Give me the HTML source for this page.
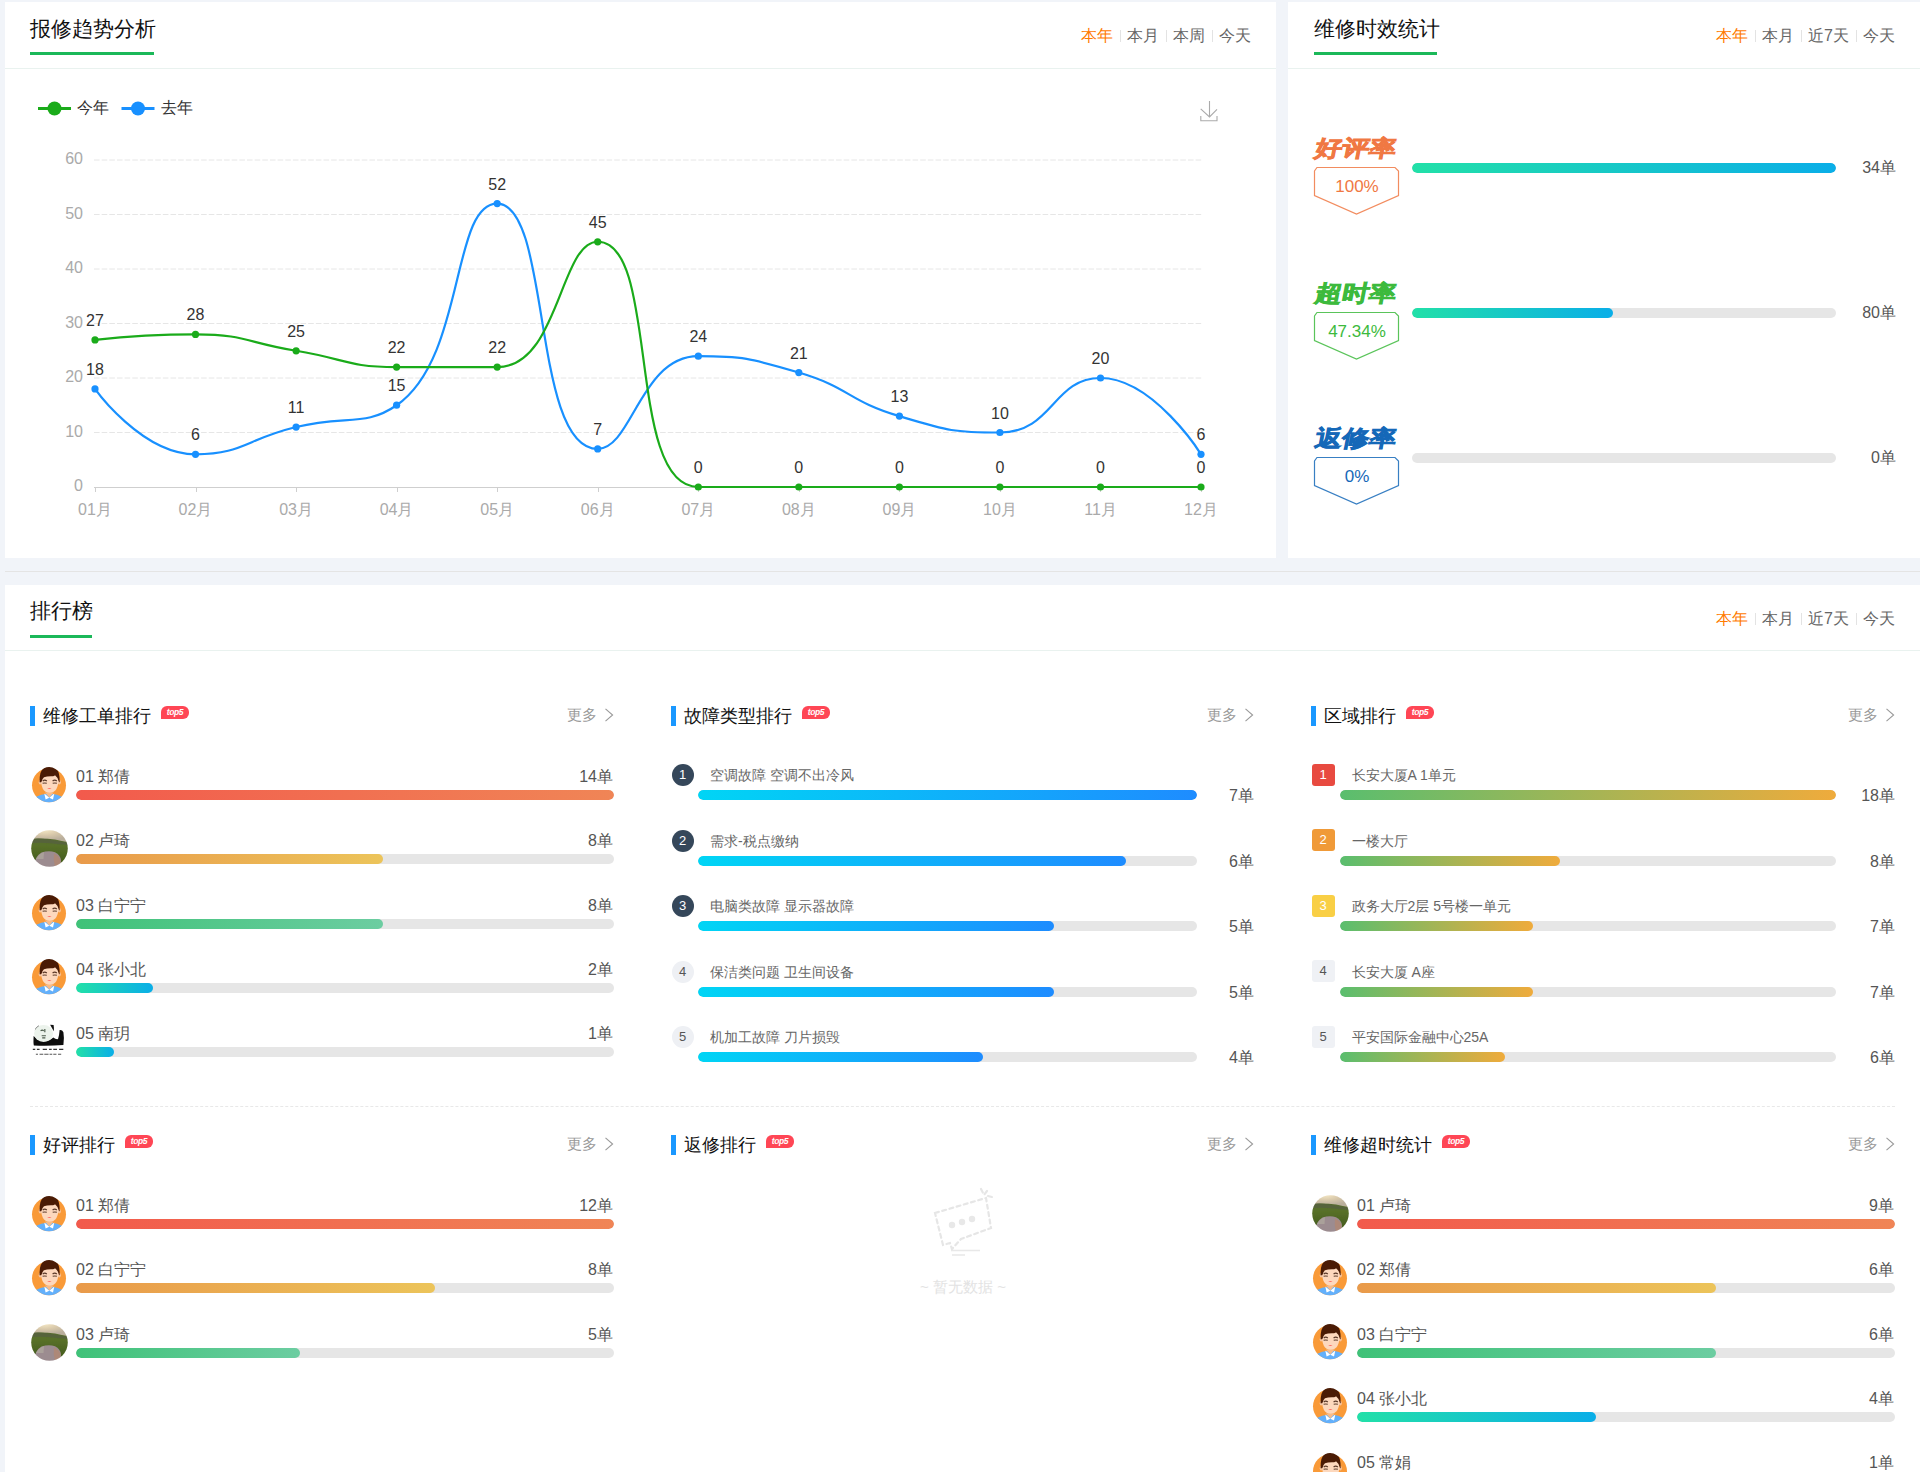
<!DOCTYPE html><html><head><meta charset="utf-8"><style>
*{box-sizing:border-box;margin:0;padding:0}
html,body{width:1920px;height:1472px;overflow:hidden}
body{background:#f1f4f9;font-family:"Liberation Sans", sans-serif;position:relative}
.a{position:absolute;white-space:nowrap;line-height:1}
.card{position:absolute;background:#fff;overflow:hidden}
.hd{position:absolute;left:0;right:0;top:0;height:67px;border-bottom:1px solid #e9f2ef}
.ttl{position:absolute;font-size:21px;color:#111;line-height:1}
.ul{position:absolute;height:3px;background:#1bb859}
.tabs{position:absolute;font-size:16px;line-height:1;color:#666;white-space:nowrap}
.tabs span{display:inline-block}
.tabs .on{color:#ff7b00}
.tabs i{display:inline-block;width:1px;height:12px;background:#e3e3e3;margin:0 6.5px;vertical-align:-1px}
.acc{position:absolute;width:5px;height:20px;background:#1a98ff}
.ptl{position:absolute;font-size:18px;color:#111;line-height:1}
.top5{position:absolute;width:28px;height:13px;background:#ff4655;border-radius:6px 6px 6px 0;color:#fff;font-size:8.5px;font-weight:bold;font-style:italic;line-height:13px;text-align:center;letter-spacing:-0.4px}
.more{position:absolute;font-size:15px;color:#999;line-height:1}
.nm{position:absolute;font-size:16px;color:#555;line-height:1}
.val{position:absolute;font-size:16px;color:#555;line-height:1;text-align:right}
.trk{position:absolute;height:10px;border-radius:5px;background:#e6e6e6;overflow:hidden}
.fill{position:absolute;left:0;top:0;height:10px;border-radius:5px}
.it{position:absolute;font-size:14px;color:#666;line-height:1}
</style></head><body>
<div class="card" style="left:5px;top:2px;width:1271px;height:556px">
<div class="hd"></div>
<div class="ttl" style="left:25px;top:16px">报修趋势分析</div>
<div class="ul" style="left:25px;top:50px;width:124px"></div>
<div class="tabs" style="right:25px;top:26px"><span class="on">本年</span><i></i><span>本月</span><i></i><span>本周</span><i></i><span>今天</span></div>
</div>
<svg class="a" style="left:0;top:0" width="1280" height="560" viewBox="0 0 1280 560"><line x1="94" y1="432.5" x2="1202" y2="432.5" stroke="#e6e6e6" stroke-width="1" stroke-dasharray="5.6,2.05"/><line x1="94" y1="378.0" x2="1202" y2="378.0" stroke="#e6e6e6" stroke-width="1" stroke-dasharray="5.6,2.05"/><line x1="94" y1="323.5" x2="1202" y2="323.5" stroke="#e6e6e6" stroke-width="1" stroke-dasharray="5.6,2.05"/><line x1="94" y1="269.0" x2="1202" y2="269.0" stroke="#e6e6e6" stroke-width="1" stroke-dasharray="5.6,2.05"/><line x1="94" y1="214.5" x2="1202" y2="214.5" stroke="#e6e6e6" stroke-width="1" stroke-dasharray="5.6,2.05"/><line x1="94" y1="160.0" x2="1202" y2="160.0" stroke="#e6e6e6" stroke-width="1" stroke-dasharray="5.6,2.05"/><line x1="94" y1="487.5" x2="1202" y2="487.5" stroke="#cfcfcf" stroke-width="1"/><line x1="95.5" y1="487" x2="95.5" y2="492" stroke="#cfcfcf" stroke-width="1"/><line x1="196.5" y1="487" x2="196.5" y2="492" stroke="#cfcfcf" stroke-width="1"/><line x1="296.5" y1="487" x2="296.5" y2="492" stroke="#cfcfcf" stroke-width="1"/><line x1="397.5" y1="487" x2="397.5" y2="492" stroke="#cfcfcf" stroke-width="1"/><line x1="497.5" y1="487" x2="497.5" y2="492" stroke="#cfcfcf" stroke-width="1"/><line x1="598.5" y1="487" x2="598.5" y2="492" stroke="#cfcfcf" stroke-width="1"/><line x1="698.5" y1="487" x2="698.5" y2="492" stroke="#cfcfcf" stroke-width="1"/><line x1="799.5" y1="487" x2="799.5" y2="492" stroke="#cfcfcf" stroke-width="1"/><line x1="899.5" y1="487" x2="899.5" y2="492" stroke="#cfcfcf" stroke-width="1"/><line x1="1000.5" y1="487" x2="1000.5" y2="492" stroke="#cfcfcf" stroke-width="1"/><line x1="1100.5" y1="487" x2="1100.5" y2="492" stroke="#cfcfcf" stroke-width="1"/><line x1="1201.5" y1="487" x2="1201.5" y2="492" stroke="#cfcfcf" stroke-width="1"/><text x="83" y="491.0" text-anchor="end" font-size="16" fill="#aaa" font-family='"Liberation Sans", sans-serif'>0</text><text x="83" y="436.5" text-anchor="end" font-size="16" fill="#aaa" font-family='"Liberation Sans", sans-serif'>10</text><text x="83" y="382.0" text-anchor="end" font-size="16" fill="#aaa" font-family='"Liberation Sans", sans-serif'>20</text><text x="83" y="327.5" text-anchor="end" font-size="16" fill="#aaa" font-family='"Liberation Sans", sans-serif'>30</text><text x="83" y="273.0" text-anchor="end" font-size="16" fill="#aaa" font-family='"Liberation Sans", sans-serif'>40</text><text x="83" y="218.5" text-anchor="end" font-size="16" fill="#aaa" font-family='"Liberation Sans", sans-serif'>50</text><text x="83" y="164.0" text-anchor="end" font-size="16" fill="#aaa" font-family='"Liberation Sans", sans-serif'>60</text><text x="95.0" y="515" text-anchor="middle" font-size="16" fill="#aaa" font-family='"Liberation Sans", sans-serif'>01月</text><text x="195.5" y="515" text-anchor="middle" font-size="16" fill="#aaa" font-family='"Liberation Sans", sans-serif'>02月</text><text x="296.1" y="515" text-anchor="middle" font-size="16" fill="#aaa" font-family='"Liberation Sans", sans-serif'>03月</text><text x="396.6" y="515" text-anchor="middle" font-size="16" fill="#aaa" font-family='"Liberation Sans", sans-serif'>04月</text><text x="497.2" y="515" text-anchor="middle" font-size="16" fill="#aaa" font-family='"Liberation Sans", sans-serif'>05月</text><text x="597.7" y="515" text-anchor="middle" font-size="16" fill="#aaa" font-family='"Liberation Sans", sans-serif'>06月</text><text x="698.3" y="515" text-anchor="middle" font-size="16" fill="#aaa" font-family='"Liberation Sans", sans-serif'>07月</text><text x="798.8" y="515" text-anchor="middle" font-size="16" fill="#aaa" font-family='"Liberation Sans", sans-serif'>08月</text><text x="899.4" y="515" text-anchor="middle" font-size="16" fill="#aaa" font-family='"Liberation Sans", sans-serif'>09月</text><text x="999.9" y="515" text-anchor="middle" font-size="16" fill="#aaa" font-family='"Liberation Sans", sans-serif'>10月</text><text x="1100.5" y="515" text-anchor="middle" font-size="16" fill="#aaa" font-family='"Liberation Sans", sans-serif'>11月</text><text x="1201.0" y="515" text-anchor="middle" font-size="16" fill="#aaa" font-family='"Liberation Sans", sans-serif'>12月</text><path d="M95.00,388.90 C95.00,388.90 141.73,454.30 195.55,454.30 C242.28,454.30 245.50,439.39 296.09,427.05 C346.05,414.86 365.12,427.05 396.63,405.25 C465.66,357.50 450.98,203.60 497.18,203.60 C551.53,203.60 531.39,448.85 597.73,448.85 C631.94,448.85 640.65,356.20 698.27,356.20 C741.20,356.20 750.38,358.11 798.82,372.55 C850.92,388.09 847.25,400.61 899.36,416.15 C947.80,430.59 952.54,432.50 999.90,432.50 C1053.08,432.50 1052.65,378.00 1100.45,378.00 C1153.20,378.00 1201.00,454.30 1201.00,454.30" fill="none" stroke="#1890ff" stroke-width="2.2"/><circle cx="95.0" cy="388.9" r="3.6" fill="#1890ff"/><circle cx="195.5" cy="454.3" r="3.6" fill="#1890ff"/><circle cx="296.1" cy="427.1" r="3.6" fill="#1890ff"/><circle cx="396.6" cy="405.2" r="3.6" fill="#1890ff"/><circle cx="497.2" cy="203.6" r="3.6" fill="#1890ff"/><circle cx="597.7" cy="448.9" r="3.6" fill="#1890ff"/><circle cx="698.3" cy="356.2" r="3.6" fill="#1890ff"/><circle cx="798.8" cy="372.6" r="3.6" fill="#1890ff"/><circle cx="899.4" cy="416.1" r="3.6" fill="#1890ff"/><circle cx="999.9" cy="432.5" r="3.6" fill="#1890ff"/><circle cx="1100.5" cy="378.0" r="3.6" fill="#1890ff"/><circle cx="1201.0" cy="454.3" r="3.6" fill="#1890ff"/><path d="M95.00,339.85 C95.00,339.85 145.56,334.40 195.55,334.40 C246.11,334.40 245.82,342.57 296.09,350.75 C346.36,358.93 346.03,367.10 396.63,367.10 C446.58,367.10 458.48,367.10 497.18,367.10 C559.03,367.10 559.78,241.75 597.73,241.75 C660.32,241.75 625.38,487.00 698.27,487.00 C725.92,487.00 748.54,487.00 798.82,487.00 C849.09,487.00 849.09,487.00 899.36,487.00 C949.63,487.00 949.63,487.00 999.90,487.00 C1050.18,487.00 1050.18,487.00 1100.45,487.00 C1150.72,487.00 1201.00,487.00 1201.00,487.00" fill="none" stroke="#1aab1a" stroke-width="2.2"/><circle cx="95.0" cy="339.9" r="3.6" fill="#1aab1a"/><circle cx="195.5" cy="334.4" r="3.6" fill="#1aab1a"/><circle cx="296.1" cy="350.8" r="3.6" fill="#1aab1a"/><circle cx="396.6" cy="367.1" r="3.6" fill="#1aab1a"/><circle cx="497.2" cy="367.1" r="3.6" fill="#1aab1a"/><circle cx="597.7" cy="241.8" r="3.6" fill="#1aab1a"/><circle cx="698.3" cy="487.0" r="3.6" fill="#1aab1a"/><circle cx="798.8" cy="487.0" r="3.6" fill="#1aab1a"/><circle cx="899.4" cy="487.0" r="3.6" fill="#1aab1a"/><circle cx="999.9" cy="487.0" r="3.6" fill="#1aab1a"/><circle cx="1100.5" cy="487.0" r="3.6" fill="#1aab1a"/><circle cx="1201.0" cy="487.0" r="3.6" fill="#1aab1a"/><text x="95.0" y="374.9" text-anchor="middle" font-size="16" fill="#333" font-family='"Liberation Sans", sans-serif'>18</text><text x="195.5" y="440.3" text-anchor="middle" font-size="16" fill="#333" font-family='"Liberation Sans", sans-serif'>6</text><text x="296.1" y="413.1" text-anchor="middle" font-size="16" fill="#333" font-family='"Liberation Sans", sans-serif'>11</text><text x="396.6" y="391.2" text-anchor="middle" font-size="16" fill="#333" font-family='"Liberation Sans", sans-serif'>15</text><text x="497.2" y="189.6" text-anchor="middle" font-size="16" fill="#333" font-family='"Liberation Sans", sans-serif'>52</text><text x="597.7" y="434.9" text-anchor="middle" font-size="16" fill="#333" font-family='"Liberation Sans", sans-serif'>7</text><text x="698.3" y="342.2" text-anchor="middle" font-size="16" fill="#333" font-family='"Liberation Sans", sans-serif'>24</text><text x="798.8" y="358.6" text-anchor="middle" font-size="16" fill="#333" font-family='"Liberation Sans", sans-serif'>21</text><text x="899.4" y="402.1" text-anchor="middle" font-size="16" fill="#333" font-family='"Liberation Sans", sans-serif'>13</text><text x="999.9" y="418.5" text-anchor="middle" font-size="16" fill="#333" font-family='"Liberation Sans", sans-serif'>10</text><text x="1100.5" y="364.0" text-anchor="middle" font-size="16" fill="#333" font-family='"Liberation Sans", sans-serif'>20</text><text x="1201.0" y="440.3" text-anchor="middle" font-size="16" fill="#333" font-family='"Liberation Sans", sans-serif'>6</text><text x="95.0" y="325.9" text-anchor="middle" font-size="16" fill="#333" font-family='"Liberation Sans", sans-serif'>27</text><text x="195.5" y="320.4" text-anchor="middle" font-size="16" fill="#333" font-family='"Liberation Sans", sans-serif'>28</text><text x="296.1" y="336.8" text-anchor="middle" font-size="16" fill="#333" font-family='"Liberation Sans", sans-serif'>25</text><text x="396.6" y="353.1" text-anchor="middle" font-size="16" fill="#333" font-family='"Liberation Sans", sans-serif'>22</text><text x="497.2" y="353.1" text-anchor="middle" font-size="16" fill="#333" font-family='"Liberation Sans", sans-serif'>22</text><text x="597.7" y="227.8" text-anchor="middle" font-size="16" fill="#333" font-family='"Liberation Sans", sans-serif'>45</text><text x="698.3" y="473.0" text-anchor="middle" font-size="16" fill="#333" font-family='"Liberation Sans", sans-serif'>0</text><text x="798.8" y="473.0" text-anchor="middle" font-size="16" fill="#333" font-family='"Liberation Sans", sans-serif'>0</text><text x="899.4" y="473.0" text-anchor="middle" font-size="16" fill="#333" font-family='"Liberation Sans", sans-serif'>0</text><text x="999.9" y="473.0" text-anchor="middle" font-size="16" fill="#333" font-family='"Liberation Sans", sans-serif'>0</text><text x="1100.5" y="473.0" text-anchor="middle" font-size="16" fill="#333" font-family='"Liberation Sans", sans-serif'>0</text><text x="1201.0" y="473.0" text-anchor="middle" font-size="16" fill="#333" font-family='"Liberation Sans", sans-serif'>0</text><line x1="38" y1="108.5" x2="71" y2="108.5" stroke="#1aab1a" stroke-width="3"/><circle cx="54.5" cy="108.5" r="7" fill="#1aab1a"/><text x="77" y="113" font-size="16" fill="#333" font-family='"Liberation Sans", sans-serif'>今年</text><line x1="121.5" y1="108.5" x2="154.5" y2="108.5" stroke="#1890ff" stroke-width="3"/><circle cx="138" cy="108.5" r="7" fill="#1890ff"/><text x="161" y="113" font-size="16" fill="#333" font-family='"Liberation Sans", sans-serif'>去年</text><g fill="none" stroke="#aaa" stroke-width="1.1"><path d="M1209.5,101 V117 M1200.7,108.8 L1209.5,117 L1217,109.3"/><path d="M1200.8,116 V120.7 H1217 V116"/></g></svg>
<div class="card" style="left:1288px;top:2px;width:632px;height:556px">
<div class="hd"></div>
<div class="ttl" style="left:26px;top:16px">维修时效统计</div>
<div class="ul" style="left:26px;top:50px;width:123px"></div>
<div class="tabs" style="right:25px;top:26px"><span class="on">本年</span><i></i><span>本月</span><i></i><span>近7天</span><i></i><span>今天</span></div>
</div>
<div class="a" style="left:1313px;top:133px;font-size:27px;font-weight:bold;color:#f07843;-webkit-text-stroke:0.9px #f07843;letter-spacing:0px;transform:skewX(-11deg) scaleY(0.84);transform-origin:0 100%">好评率</div>
<svg class="a" style="left:1313px;top:166px" width="88" height="50" viewBox="0 0 88 50"><path d="M4,1.5 H82 L85.5,5 V29.5 L43.5,48 L1.5,29.5 V5 Z" fill="none" stroke="#f07843" stroke-width="1.2" opacity="0.85"/></svg>
<div class="a" style="left:1313px;width:88px;text-align:center;top:178px;font-size:17px;color:#f07843">100%</div>
<div class="trk" style="left:1412px;top:163px;width:424px"><div class="fill" style="width:424.0px;background:linear-gradient(90deg,#22e0a8,#0aaee8)"></div></div>
<div class="val" style="right:24px;top:160px;color:#555">34单</div>
<div class="a" style="left:1313px;top:278px;font-size:27px;font-weight:bold;color:#3dba3d;-webkit-text-stroke:0.9px #3dba3d;letter-spacing:0px;transform:skewX(-11deg) scaleY(0.84);transform-origin:0 100%">超时率</div>
<svg class="a" style="left:1313px;top:311px" width="88" height="50" viewBox="0 0 88 50"><path d="M4,1.5 H82 L85.5,5 V29.5 L43.5,48 L1.5,29.5 V5 Z" fill="none" stroke="#3dba3d" stroke-width="1.2" opacity="0.85"/></svg>
<div class="a" style="left:1313px;width:88px;text-align:center;top:323px;font-size:17px;color:#3dba3d">47.34%</div>
<div class="trk" style="left:1412px;top:308px;width:424px"><div class="fill" style="width:200.7px;background:linear-gradient(90deg,#22e0a8,#0aaee8)"></div></div>
<div class="val" style="right:24px;top:305px;color:#555">80单</div>
<div class="a" style="left:1313px;top:423px;font-size:27px;font-weight:bold;color:#1568b8;-webkit-text-stroke:0.9px #1568b8;letter-spacing:0px;transform:skewX(-11deg) scaleY(0.84);transform-origin:0 100%">返修率</div>
<svg class="a" style="left:1313px;top:456px" width="88" height="50" viewBox="0 0 88 50"><path d="M4,1.5 H82 L85.5,5 V29.5 L43.5,48 L1.5,29.5 V5 Z" fill="none" stroke="#1568b8" stroke-width="1.2" opacity="0.85"/></svg>
<div class="a" style="left:1313px;width:88px;text-align:center;top:468px;font-size:17px;color:#1568b8">0%</div>
<div class="trk" style="left:1412px;top:453px;width:424px"><div class="fill" style="width:0.0px;background:linear-gradient(90deg,#22e0a8,#0aaee8)"></div></div>
<div class="val" style="right:24px;top:450px;color:#555">0单</div>
<div class="a" style="left:5px;top:571px;width:1915px;height:1px;background:#e4e4e4"></div>
<div class="card" style="left:5px;top:585px;width:1915px;height:900px">
<div class="hd" style="height:66px"></div>
<div class="ttl" style="left:25px;top:15px">排行榜</div>
<div class="ul" style="left:25px;top:50px;width:62px"></div>
<div class="tabs" style="right:25px;top:26px"><span class="on">本年</span><i></i><span>本月</span><i></i><span>近7天</span><i></i><span>今天</span></div>
</div>
<div class="acc" style="left:30px;top:706px"></div>
<div class="ptl" style="left:43px;top:707px">维修工单排行</div>
<div class="top5" style="left:161px;top:706px">top5</div>
<div class="more" style="right:1323px;top:707px">更多</div><svg class="a" style="left:604px;top:707.5px" width="10" height="14" viewBox="0 0 10 14"><path d="M1.5,0.8 L8.6,7 L1.5,13.2" fill="none" stroke="#9a9a9a" stroke-width="1.1"/></svg>
<svg class="a" style="left:31.200000000000003px;top:765.5px" width="36" height="38" viewBox="0 0 36 38">
<defs><clipPath id="c492_7845"><circle cx="18" cy="19.3" r="17"/></clipPath></defs>
<circle cx="18" cy="19.3" r="17" fill="#f99a38"/>
<g clip-path="url(#c492_7845)"><path d="M3,32.5 Q10,27.8 18.3,27.6 Q26.5,27.8 33,32.5 V40 H3 Z" fill="#63b0fb"/></g>
<path d="M13.8,26.5 H22.8 L18.3,31.6 Z" fill="#f6bb8a"/>
<path d="M13.3,27.4 L18.3,31.8 L14.6,33.6 Z M23.3,27.4 L18.3,31.8 L22,33.6 Z" fill="#fff"/>
<ellipse cx="9.2" cy="16.2" rx="1.5" ry="2.3" fill="#f8c49c"/><ellipse cx="28.3" cy="16.2" rx="1.5" ry="2.3" fill="#f8c49c"/>
<path d="M9.8,10 Q9.4,26.8 18.6,26.8 Q28,26.8 27.8,10 Q18.6,5 9.8,10 Z" fill="#fdd8bd"/>
<path d="M8.6,16.3 Q8.2,4.5 13,2.2 Q17.5,0.2 21.5,1.6 Q24.5,2.8 25.5,3.8 Q28.8,5 28.7,16.3 L28,16 Q27.2,11.5 24,9.2 Q23.2,10.3 21.5,10.2 Q16,10 13,11.2 Q11,12.8 10.3,16.3 Z" fill="#4a1b05"/>
<path d="M11.7,14.9 Q13.7,13.3 15.8,14.9 M21.6,14.9 Q23.7,13.3 25.8,14.9" stroke="#5a3828" stroke-width="1.3" fill="none"/>
<path d="M11.6,17.3 Q13.7,16.8 15.8,17.3 M21.7,17.3 Q23.8,16.8 25.9,17.3" stroke="#5e3e2e" stroke-width="1.1" fill="none"/>
<path d="M16.2,22.3 H20.5 Q18.4,23.9 16.2,22.3 Z" fill="#ff4a4a"/>
</svg>
<div class="nm" style="left:76px;top:769.0px">01 郑倩</div>
<div class="val" style="right:1307px;top:769.0px">14单</div>
<div class="trk" style="left:76px;top:790.0px;width:538px"><div class="fill" style="width:538.0px;background:linear-gradient(90deg,#f25a4c,#f08556)"></div></div>
<svg class="a" style="left:30.700000000000003px;top:830.3px" width="37" height="37" viewBox="0 0 37 37">
<defs><clipPath id="p492_8488"><circle cx="18.5" cy="18.5" r="18.3"/></clipPath>
<radialGradient id="sk492_8488" cx="0.38" cy="0.15" r="0.7"><stop offset="0" stop-color="#f3e6c4"/><stop offset="0.5" stop-color="#d8c8aa"/><stop offset="1" stop-color="#b9ae9c"/></radialGradient>
<linearGradient id="fd492_8488" x1="0" y1="0" x2="0" y2="1"><stop offset="0" stop-color="#5a6a3a"/><stop offset="0.45" stop-color="#587028"/><stop offset="1" stop-color="#3c5418"/></linearGradient>
<filter id="bl492_8488"><feGaussianBlur stdDeviation="0.6"/></filter></defs>
<g clip-path="url(#p492_8488)"><g filter="url(#bl492_8488)">
<rect x="-2" y="-2" width="41" height="41" fill="url(#fd492_8488)"/>
<path d="M-2,-2 H39 V12.5 Q30,11 24,9.5 Q14,8 6,8.5 Q2,9 -2,9.5 Z" fill="url(#sk492_8488)"/>
<path d="M-2,9.5 Q6,8 14,9 Q24,10.5 39,13 V15.5 Q25,13.5 14,13 Q5,12.5 -2,13.5 Z" fill="#56613e" opacity="0.8"/>
<path d="M2.5,38 Q3.5,26.5 10.5,22.5 Q18,20.3 24,22.3 Q29.5,25 30,30.5 L29,38 Z" fill="#9c8c90"/>
<path d="M5,29 Q8,23.5 13,22 L12.5,29 Z" fill="#b0aa9e" opacity="0.7"/>
<path d="M23,23.5 Q28,25.5 29.5,30 L29,37 H24 Q22,30 23,23.5 Z" fill="#ad8878"/>
</g></g></svg>
<div class="nm" style="left:76px;top:833.3px">02 卢琦</div>
<div class="val" style="right:1307px;top:833.3px">8单</div>
<div class="trk" style="left:76px;top:854.3px;width:538px"><div class="fill" style="width:307.4px;background:linear-gradient(90deg,#e99a4a,#ecc45a)"></div></div>
<svg class="a" style="left:31.200000000000003px;top:894.1px" width="36" height="38" viewBox="0 0 36 38">
<defs><clipPath id="c492_9131"><circle cx="18" cy="19.3" r="17"/></clipPath></defs>
<circle cx="18" cy="19.3" r="17" fill="#f99a38"/>
<g clip-path="url(#c492_9131)"><path d="M3,32.5 Q10,27.8 18.3,27.6 Q26.5,27.8 33,32.5 V40 H3 Z" fill="#63b0fb"/></g>
<path d="M13.8,26.5 H22.8 L18.3,31.6 Z" fill="#f6bb8a"/>
<path d="M13.3,27.4 L18.3,31.8 L14.6,33.6 Z M23.3,27.4 L18.3,31.8 L22,33.6 Z" fill="#fff"/>
<ellipse cx="9.2" cy="16.2" rx="1.5" ry="2.3" fill="#f8c49c"/><ellipse cx="28.3" cy="16.2" rx="1.5" ry="2.3" fill="#f8c49c"/>
<path d="M9.8,10 Q9.4,26.8 18.6,26.8 Q28,26.8 27.8,10 Q18.6,5 9.8,10 Z" fill="#fdd8bd"/>
<path d="M8.6,16.3 Q8.2,4.5 13,2.2 Q17.5,0.2 21.5,1.6 Q24.5,2.8 25.5,3.8 Q28.8,5 28.7,16.3 L28,16 Q27.2,11.5 24,9.2 Q23.2,10.3 21.5,10.2 Q16,10 13,11.2 Q11,12.8 10.3,16.3 Z" fill="#4a1b05"/>
<path d="M11.7,14.9 Q13.7,13.3 15.8,14.9 M21.6,14.9 Q23.7,13.3 25.8,14.9" stroke="#5a3828" stroke-width="1.3" fill="none"/>
<path d="M11.6,17.3 Q13.7,16.8 15.8,17.3 M21.7,17.3 Q23.8,16.8 25.9,17.3" stroke="#5e3e2e" stroke-width="1.1" fill="none"/>
<path d="M16.2,22.3 H20.5 Q18.4,23.9 16.2,22.3 Z" fill="#ff4a4a"/>
</svg>
<div class="nm" style="left:76px;top:897.6px">03 白宁宁</div>
<div class="val" style="right:1307px;top:897.6px">8单</div>
<div class="trk" style="left:76px;top:918.6px;width:538px"><div class="fill" style="width:307.4px;background:linear-gradient(90deg,#3fc278,#6ccda1)"></div></div>
<svg class="a" style="left:31.200000000000003px;top:958.4px" width="36" height="38" viewBox="0 0 36 38">
<defs><clipPath id="c492_9774"><circle cx="18" cy="19.3" r="17"/></clipPath></defs>
<circle cx="18" cy="19.3" r="17" fill="#f99a38"/>
<g clip-path="url(#c492_9774)"><path d="M3,32.5 Q10,27.8 18.3,27.6 Q26.5,27.8 33,32.5 V40 H3 Z" fill="#63b0fb"/></g>
<path d="M13.8,26.5 H22.8 L18.3,31.6 Z" fill="#f6bb8a"/>
<path d="M13.3,27.4 L18.3,31.8 L14.6,33.6 Z M23.3,27.4 L18.3,31.8 L22,33.6 Z" fill="#fff"/>
<ellipse cx="9.2" cy="16.2" rx="1.5" ry="2.3" fill="#f8c49c"/><ellipse cx="28.3" cy="16.2" rx="1.5" ry="2.3" fill="#f8c49c"/>
<path d="M9.8,10 Q9.4,26.8 18.6,26.8 Q28,26.8 27.8,10 Q18.6,5 9.8,10 Z" fill="#fdd8bd"/>
<path d="M8.6,16.3 Q8.2,4.5 13,2.2 Q17.5,0.2 21.5,1.6 Q24.5,2.8 25.5,3.8 Q28.8,5 28.7,16.3 L28,16 Q27.2,11.5 24,9.2 Q23.2,10.3 21.5,10.2 Q16,10 13,11.2 Q11,12.8 10.3,16.3 Z" fill="#4a1b05"/>
<path d="M11.7,14.9 Q13.7,13.3 15.8,14.9 M21.6,14.9 Q23.7,13.3 25.8,14.9" stroke="#5a3828" stroke-width="1.3" fill="none"/>
<path d="M11.6,17.3 Q13.7,16.8 15.8,17.3 M21.7,17.3 Q23.8,16.8 25.9,17.3" stroke="#5e3e2e" stroke-width="1.1" fill="none"/>
<path d="M16.2,22.3 H20.5 Q18.4,23.9 16.2,22.3 Z" fill="#ff4a4a"/>
</svg>
<div class="nm" style="left:76px;top:961.9px">04 张小北</div>
<div class="val" style="right:1307px;top:961.9px">2单</div>
<div class="trk" style="left:76px;top:982.9px;width:538px"><div class="fill" style="width:76.9px;background:linear-gradient(90deg,#22e0a8,#0aaee8)"></div></div>
<svg class="a" style="left:29.200000000000003px;top:1018.2px" width="38" height="38" viewBox="0 0 36 36">
<path d="M4.4,17 Q4,24 4.6,26 Q18,26.6 32.6,25.6 Q33.6,19 32.6,13.5 Q31.5,11 29,11.4 Q28.6,17 27.5,20 Q25.5,20.5 23,18.5 Q17,24.5 8,20 Z" fill="#0d0d0d"/>
<path d="M5.5,12 Q6.5,8.5 9.5,6.8 L8,11 Z" fill="#111"/>
<path d="M20,6.5 L23.3,6.6 Q23.8,9 23.5,12.5 Z" fill="#111"/>
<ellipse cx="13.8" cy="14.7" rx="9" ry="8" fill="#ecf3ec"/>
<path d="M11,12 Q12.5,11 14,12 M15,10.5 V13.5 M12,16.8 H16 M12.5,18.8 H15.5" stroke="#4b5b4b" stroke-width="1.1" fill="none"/>
<path d="M3.6,29.7 h2.3 M7.5,29.7 h2.5 M13,29.7 h4 M19,29.7 h2.5 M23,29.7 h3.5 M28.5,29.7 h4" stroke="#333" stroke-width="1.3"/>
<path d="M6.5,34.4 h2 M10,34.4 h3.5 M14.5,34.4 h4 M19.5,34.4 h2.5 M23,34.4 h3 M27.5,34.4 h3" stroke="#555" stroke-width="1"/>
</svg>
<div class="nm" style="left:76px;top:1026.2px">05 南玥</div>
<div class="val" style="right:1307px;top:1026.2px">1单</div>
<div class="trk" style="left:76px;top:1047.2px;width:538px"><div class="fill" style="width:38.4px;background:linear-gradient(90deg,#22e0a8,#0aaee8)"></div></div>
<div class="acc" style="left:671px;top:706px"></div>
<div class="ptl" style="left:684px;top:707px">故障类型排行</div>
<div class="top5" style="left:802px;top:706px">top5</div>
<div class="more" style="right:683px;top:707px">更多</div><svg class="a" style="left:1244px;top:707.5px" width="10" height="14" viewBox="0 0 10 14"><path d="M1.5,0.8 L8.6,7 L1.5,13.2" fill="none" stroke="#9a9a9a" stroke-width="1.1"/></svg>
<div class="a" style="left:671.5px;top:764.2px;width:22px;height:22px;border-radius:50%;background:#35475a;color:#fff;font-size:13px;line-height:22px;text-align:center">1</div>
<div class="it" style="left:710px;top:768.0px">空调故障 空调不出冷风</div>
<div class="trk" style="left:698px;top:790.0px;width:499px"><div class="fill" style="width:499.0px;background:linear-gradient(90deg,#00d5f5,#1e8cff)"></div></div>
<div class="val" style="right:666px;top:788.0px">7单</div>
<div class="a" style="left:671.5px;top:829.7px;width:22px;height:22px;border-radius:50%;background:#35475a;color:#fff;font-size:13px;line-height:22px;text-align:center">2</div>
<div class="it" style="left:710px;top:833.5px">需求-税点缴纳</div>
<div class="trk" style="left:698px;top:855.5px;width:499px"><div class="fill" style="width:427.7px;background:linear-gradient(90deg,#00d5f5,#1e8cff)"></div></div>
<div class="val" style="right:666px;top:853.5px">6单</div>
<div class="a" style="left:671.5px;top:895.2px;width:22px;height:22px;border-radius:50%;background:#35475a;color:#fff;font-size:13px;line-height:22px;text-align:center">3</div>
<div class="it" style="left:710px;top:899.0px">电脑类故障 显示器故障</div>
<div class="trk" style="left:698px;top:921.0px;width:499px"><div class="fill" style="width:356.4px;background:linear-gradient(90deg,#00d5f5,#1e8cff)"></div></div>
<div class="val" style="right:666px;top:919.0px">5单</div>
<div class="a" style="left:671.5px;top:960.7px;width:22px;height:22px;border-radius:50%;background:#eef0f4;color:#555;font-size:13px;line-height:22px;text-align:center">4</div>
<div class="it" style="left:710px;top:964.5px">保洁类问题 卫生间设备</div>
<div class="trk" style="left:698px;top:986.5px;width:499px"><div class="fill" style="width:356.4px;background:linear-gradient(90deg,#00d5f5,#1e8cff)"></div></div>
<div class="val" style="right:666px;top:984.5px">5单</div>
<div class="a" style="left:671.5px;top:1026.2px;width:22px;height:22px;border-radius:50%;background:#eef0f4;color:#555;font-size:13px;line-height:22px;text-align:center">5</div>
<div class="it" style="left:710px;top:1030.0px">机加工故障 刀片损毁</div>
<div class="trk" style="left:698px;top:1052.0px;width:499px"><div class="fill" style="width:285.1px;background:linear-gradient(90deg,#00d5f5,#1e8cff)"></div></div>
<div class="val" style="right:666px;top:1050.0px">4单</div>
<div class="acc" style="left:1311px;top:706px"></div>
<div class="ptl" style="left:1324px;top:707px">区域排行</div>
<div class="top5" style="left:1406px;top:706px">top5</div>
<div class="more" style="right:42px;top:707px">更多</div><svg class="a" style="left:1885px;top:707.5px" width="10" height="14" viewBox="0 0 10 14"><path d="M1.5,0.8 L8.6,7 L1.5,13.2" fill="none" stroke="#9a9a9a" stroke-width="1.1"/></svg>
<div class="a" style="left:1311.5px;top:763.8px;width:23px;height:22px;border-radius:3px;background:#e84a40;color:#fff;font-size:13px;line-height:22px;text-align:center">1</div>
<div class="it" style="left:1351.5px;top:768.0px">长安大厦A 1单元</div>
<div class="trk" style="left:1340px;top:790.0px;width:496px"><div class="fill" style="width:496.0px;background:linear-gradient(90deg,#5abe6e,#efab3c)"></div></div>
<div class="val" style="right:25px;top:788.0px">18单</div>
<div class="a" style="left:1311.5px;top:829.3px;width:23px;height:22px;border-radius:3px;background:#f09a38;color:#fff;font-size:13px;line-height:22px;text-align:center">2</div>
<div class="it" style="left:1351.5px;top:833.5px">一楼大厅</div>
<div class="trk" style="left:1340px;top:855.5px;width:496px"><div class="fill" style="width:220.4px;background:linear-gradient(90deg,#5abe6e,#efab3c)"></div></div>
<div class="val" style="right:25px;top:853.5px">8单</div>
<div class="a" style="left:1311.5px;top:894.8px;width:23px;height:22px;border-radius:3px;background:#f9cf45;color:#fff;font-size:13px;line-height:22px;text-align:center">3</div>
<div class="it" style="left:1351.5px;top:899.0px">政务大厅2层 5号楼一单元</div>
<div class="trk" style="left:1340px;top:921.0px;width:496px"><div class="fill" style="width:192.9px;background:linear-gradient(90deg,#5abe6e,#efab3c)"></div></div>
<div class="val" style="right:25px;top:919.0px">7单</div>
<div class="a" style="left:1311.5px;top:960.3px;width:23px;height:22px;border-radius:3px;background:#eff1f5;color:#555;font-size:13px;line-height:22px;text-align:center">4</div>
<div class="it" style="left:1351.5px;top:964.5px">长安大厦 A座</div>
<div class="trk" style="left:1340px;top:986.5px;width:496px"><div class="fill" style="width:192.9px;background:linear-gradient(90deg,#5abe6e,#efab3c)"></div></div>
<div class="val" style="right:25px;top:984.5px">7单</div>
<div class="a" style="left:1311.5px;top:1025.8px;width:23px;height:22px;border-radius:3px;background:#eff1f5;color:#555;font-size:13px;line-height:22px;text-align:center">5</div>
<div class="it" style="left:1351.5px;top:1030.0px">平安国际金融中心25A</div>
<div class="trk" style="left:1340px;top:1052.0px;width:496px"><div class="fill" style="width:165.3px;background:linear-gradient(90deg,#5abe6e,#efab3c)"></div></div>
<div class="val" style="right:25px;top:1050.0px">6单</div>
<div class="a" style="left:30px;top:1106px;width:1865px;height:0;border-top:1px dashed #e8e8e8"></div>
<div class="acc" style="left:30px;top:1135px"></div>
<div class="ptl" style="left:43px;top:1136px">好评排行</div>
<div class="top5" style="left:125px;top:1135px">top5</div>
<div class="more" style="right:1323px;top:1136px">更多</div><svg class="a" style="left:604px;top:1136.5px" width="10" height="14" viewBox="0 0 10 14"><path d="M1.5,0.8 L8.6,7 L1.5,13.2" fill="none" stroke="#9a9a9a" stroke-width="1.1"/></svg>
<svg class="a" style="left:31.200000000000003px;top:1194.5px" width="36" height="38" viewBox="0 0 36 38">
<defs><clipPath id="c492_12135"><circle cx="18" cy="19.3" r="17"/></clipPath></defs>
<circle cx="18" cy="19.3" r="17" fill="#f99a38"/>
<g clip-path="url(#c492_12135)"><path d="M3,32.5 Q10,27.8 18.3,27.6 Q26.5,27.8 33,32.5 V40 H3 Z" fill="#63b0fb"/></g>
<path d="M13.8,26.5 H22.8 L18.3,31.6 Z" fill="#f6bb8a"/>
<path d="M13.3,27.4 L18.3,31.8 L14.6,33.6 Z M23.3,27.4 L18.3,31.8 L22,33.6 Z" fill="#fff"/>
<ellipse cx="9.2" cy="16.2" rx="1.5" ry="2.3" fill="#f8c49c"/><ellipse cx="28.3" cy="16.2" rx="1.5" ry="2.3" fill="#f8c49c"/>
<path d="M9.8,10 Q9.4,26.8 18.6,26.8 Q28,26.8 27.8,10 Q18.6,5 9.8,10 Z" fill="#fdd8bd"/>
<path d="M8.6,16.3 Q8.2,4.5 13,2.2 Q17.5,0.2 21.5,1.6 Q24.5,2.8 25.5,3.8 Q28.8,5 28.7,16.3 L28,16 Q27.2,11.5 24,9.2 Q23.2,10.3 21.5,10.2 Q16,10 13,11.2 Q11,12.8 10.3,16.3 Z" fill="#4a1b05"/>
<path d="M11.7,14.9 Q13.7,13.3 15.8,14.9 M21.6,14.9 Q23.7,13.3 25.8,14.9" stroke="#5a3828" stroke-width="1.3" fill="none"/>
<path d="M11.6,17.3 Q13.7,16.8 15.8,17.3 M21.7,17.3 Q23.8,16.8 25.9,17.3" stroke="#5e3e2e" stroke-width="1.1" fill="none"/>
<path d="M16.2,22.3 H20.5 Q18.4,23.9 16.2,22.3 Z" fill="#ff4a4a"/>
</svg>
<div class="nm" style="left:76px;top:1198.0px">01 郑倩</div>
<div class="val" style="right:1307px;top:1198.0px">12单</div>
<div class="trk" style="left:76px;top:1219.0px;width:538px"><div class="fill" style="width:538.0px;background:linear-gradient(90deg,#f25a4c,#f08556)"></div></div>
<svg class="a" style="left:31.200000000000003px;top:1258.8px" width="36" height="38" viewBox="0 0 36 38">
<defs><clipPath id="c492_12778"><circle cx="18" cy="19.3" r="17"/></clipPath></defs>
<circle cx="18" cy="19.3" r="17" fill="#f99a38"/>
<g clip-path="url(#c492_12778)"><path d="M3,32.5 Q10,27.8 18.3,27.6 Q26.5,27.8 33,32.5 V40 H3 Z" fill="#63b0fb"/></g>
<path d="M13.8,26.5 H22.8 L18.3,31.6 Z" fill="#f6bb8a"/>
<path d="M13.3,27.4 L18.3,31.8 L14.6,33.6 Z M23.3,27.4 L18.3,31.8 L22,33.6 Z" fill="#fff"/>
<ellipse cx="9.2" cy="16.2" rx="1.5" ry="2.3" fill="#f8c49c"/><ellipse cx="28.3" cy="16.2" rx="1.5" ry="2.3" fill="#f8c49c"/>
<path d="M9.8,10 Q9.4,26.8 18.6,26.8 Q28,26.8 27.8,10 Q18.6,5 9.8,10 Z" fill="#fdd8bd"/>
<path d="M8.6,16.3 Q8.2,4.5 13,2.2 Q17.5,0.2 21.5,1.6 Q24.5,2.8 25.5,3.8 Q28.8,5 28.7,16.3 L28,16 Q27.2,11.5 24,9.2 Q23.2,10.3 21.5,10.2 Q16,10 13,11.2 Q11,12.8 10.3,16.3 Z" fill="#4a1b05"/>
<path d="M11.7,14.9 Q13.7,13.3 15.8,14.9 M21.6,14.9 Q23.7,13.3 25.8,14.9" stroke="#5a3828" stroke-width="1.3" fill="none"/>
<path d="M11.6,17.3 Q13.7,16.8 15.8,17.3 M21.7,17.3 Q23.8,16.8 25.9,17.3" stroke="#5e3e2e" stroke-width="1.1" fill="none"/>
<path d="M16.2,22.3 H20.5 Q18.4,23.9 16.2,22.3 Z" fill="#ff4a4a"/>
</svg>
<div class="nm" style="left:76px;top:1262.3px">02 白宁宁</div>
<div class="val" style="right:1307px;top:1262.3px">8单</div>
<div class="trk" style="left:76px;top:1283.3px;width:538px"><div class="fill" style="width:358.7px;background:linear-gradient(90deg,#e99a4a,#ecc45a)"></div></div>
<svg class="a" style="left:30.700000000000003px;top:1323.6px" width="37" height="37" viewBox="0 0 37 37">
<defs><clipPath id="p492_13421"><circle cx="18.5" cy="18.5" r="18.3"/></clipPath>
<radialGradient id="sk492_13421" cx="0.38" cy="0.15" r="0.7"><stop offset="0" stop-color="#f3e6c4"/><stop offset="0.5" stop-color="#d8c8aa"/><stop offset="1" stop-color="#b9ae9c"/></radialGradient>
<linearGradient id="fd492_13421" x1="0" y1="0" x2="0" y2="1"><stop offset="0" stop-color="#5a6a3a"/><stop offset="0.45" stop-color="#587028"/><stop offset="1" stop-color="#3c5418"/></linearGradient>
<filter id="bl492_13421"><feGaussianBlur stdDeviation="0.6"/></filter></defs>
<g clip-path="url(#p492_13421)"><g filter="url(#bl492_13421)">
<rect x="-2" y="-2" width="41" height="41" fill="url(#fd492_13421)"/>
<path d="M-2,-2 H39 V12.5 Q30,11 24,9.5 Q14,8 6,8.5 Q2,9 -2,9.5 Z" fill="url(#sk492_13421)"/>
<path d="M-2,9.5 Q6,8 14,9 Q24,10.5 39,13 V15.5 Q25,13.5 14,13 Q5,12.5 -2,13.5 Z" fill="#56613e" opacity="0.8"/>
<path d="M2.5,38 Q3.5,26.5 10.5,22.5 Q18,20.3 24,22.3 Q29.5,25 30,30.5 L29,38 Z" fill="#9c8c90"/>
<path d="M5,29 Q8,23.5 13,22 L12.5,29 Z" fill="#b0aa9e" opacity="0.7"/>
<path d="M23,23.5 Q28,25.5 29.5,30 L29,37 H24 Q22,30 23,23.5 Z" fill="#ad8878"/>
</g></g></svg>
<div class="nm" style="left:76px;top:1326.6px">03 卢琦</div>
<div class="val" style="right:1307px;top:1326.6px">5单</div>
<div class="trk" style="left:76px;top:1347.6px;width:538px"><div class="fill" style="width:224.2px;background:linear-gradient(90deg,#3fc278,#6ccda1)"></div></div>
<div class="acc" style="left:671px;top:1135px"></div>
<div class="ptl" style="left:684px;top:1136px">返修排行</div>
<div class="top5" style="left:766px;top:1135px">top5</div>
<div class="more" style="right:683px;top:1136px">更多</div><svg class="a" style="left:1244px;top:1136.5px" width="10" height="14" viewBox="0 0 10 14"><path d="M1.5,0.8 L8.6,7 L1.5,13.2" fill="none" stroke="#9a9a9a" stroke-width="1.1"/></svg>
<svg class="a" style="left:930px;top:1186px" width="66" height="74" viewBox="0 0 66 74">
<g fill="none" stroke="#e6e6e6" stroke-width="2.2" stroke-dasharray="4,3.5" stroke-linecap="round">
<path d="M5,27 L56,12 L61,42 L31,53 L22,63 L20,57 L13,59 Z"/>
<path d="M51,3 L54,9 M57,5 L54,9 M58,10 L62,11"/>
</g>
<circle cx="22" cy="39" r="3.2" fill="#e8e8e8"/><circle cx="32" cy="36" r="3.2" fill="#e8e8e8"/><circle cx="42" cy="33" r="3.2" fill="#e8e8e8"/>
<path d="M21,64.5 H50 M22,69 H35" stroke="#e8e8e8" stroke-width="1.6"/>
</svg>
<div class="a" style="left:671px;width:584px;text-align:center;top:1279px;font-size:15px;color:#e3e3e3">~ 暂无数据 ~</div>
<div class="acc" style="left:1311px;top:1135px"></div>
<div class="ptl" style="left:1324px;top:1136px">维修超时统计</div>
<div class="top5" style="left:1442px;top:1135px">top5</div>
<div class="more" style="right:42px;top:1136px">更多</div><svg class="a" style="left:1885px;top:1136.5px" width="10" height="14" viewBox="0 0 10 14"><path d="M1.5,0.8 L8.6,7 L1.5,13.2" fill="none" stroke="#9a9a9a" stroke-width="1.1"/></svg>
<svg class="a" style="left:1311.7px;top:1195.0px" width="37" height="37" viewBox="0 0 37 37">
<defs><clipPath id="p13302_12135"><circle cx="18.5" cy="18.5" r="18.3"/></clipPath>
<radialGradient id="sk13302_12135" cx="0.38" cy="0.15" r="0.7"><stop offset="0" stop-color="#f3e6c4"/><stop offset="0.5" stop-color="#d8c8aa"/><stop offset="1" stop-color="#b9ae9c"/></radialGradient>
<linearGradient id="fd13302_12135" x1="0" y1="0" x2="0" y2="1"><stop offset="0" stop-color="#5a6a3a"/><stop offset="0.45" stop-color="#587028"/><stop offset="1" stop-color="#3c5418"/></linearGradient>
<filter id="bl13302_12135"><feGaussianBlur stdDeviation="0.6"/></filter></defs>
<g clip-path="url(#p13302_12135)"><g filter="url(#bl13302_12135)">
<rect x="-2" y="-2" width="41" height="41" fill="url(#fd13302_12135)"/>
<path d="M-2,-2 H39 V12.5 Q30,11 24,9.5 Q14,8 6,8.5 Q2,9 -2,9.5 Z" fill="url(#sk13302_12135)"/>
<path d="M-2,9.5 Q6,8 14,9 Q24,10.5 39,13 V15.5 Q25,13.5 14,13 Q5,12.5 -2,13.5 Z" fill="#56613e" opacity="0.8"/>
<path d="M2.5,38 Q3.5,26.5 10.5,22.5 Q18,20.3 24,22.3 Q29.5,25 30,30.5 L29,38 Z" fill="#9c8c90"/>
<path d="M5,29 Q8,23.5 13,22 L12.5,29 Z" fill="#b0aa9e" opacity="0.7"/>
<path d="M23,23.5 Q28,25.5 29.5,30 L29,37 H24 Q22,30 23,23.5 Z" fill="#ad8878"/>
</g></g></svg>
<div class="nm" style="left:1357px;top:1198.0px">01 卢琦</div>
<div class="val" style="right:26px;top:1198.0px">9单</div>
<div class="trk" style="left:1357px;top:1219.0px;width:538px"><div class="fill" style="width:538.0px;background:linear-gradient(90deg,#f25a4c,#f08556)"></div></div>
<svg class="a" style="left:1312.2px;top:1258.8px" width="36" height="38" viewBox="0 0 36 38">
<defs><clipPath id="c13302_12778"><circle cx="18" cy="19.3" r="17"/></clipPath></defs>
<circle cx="18" cy="19.3" r="17" fill="#f99a38"/>
<g clip-path="url(#c13302_12778)"><path d="M3,32.5 Q10,27.8 18.3,27.6 Q26.5,27.8 33,32.5 V40 H3 Z" fill="#63b0fb"/></g>
<path d="M13.8,26.5 H22.8 L18.3,31.6 Z" fill="#f6bb8a"/>
<path d="M13.3,27.4 L18.3,31.8 L14.6,33.6 Z M23.3,27.4 L18.3,31.8 L22,33.6 Z" fill="#fff"/>
<ellipse cx="9.2" cy="16.2" rx="1.5" ry="2.3" fill="#f8c49c"/><ellipse cx="28.3" cy="16.2" rx="1.5" ry="2.3" fill="#f8c49c"/>
<path d="M9.8,10 Q9.4,26.8 18.6,26.8 Q28,26.8 27.8,10 Q18.6,5 9.8,10 Z" fill="#fdd8bd"/>
<path d="M8.6,16.3 Q8.2,4.5 13,2.2 Q17.5,0.2 21.5,1.6 Q24.5,2.8 25.5,3.8 Q28.8,5 28.7,16.3 L28,16 Q27.2,11.5 24,9.2 Q23.2,10.3 21.5,10.2 Q16,10 13,11.2 Q11,12.8 10.3,16.3 Z" fill="#4a1b05"/>
<path d="M11.7,14.9 Q13.7,13.3 15.8,14.9 M21.6,14.9 Q23.7,13.3 25.8,14.9" stroke="#5a3828" stroke-width="1.3" fill="none"/>
<path d="M11.6,17.3 Q13.7,16.8 15.8,17.3 M21.7,17.3 Q23.8,16.8 25.9,17.3" stroke="#5e3e2e" stroke-width="1.1" fill="none"/>
<path d="M16.2,22.3 H20.5 Q18.4,23.9 16.2,22.3 Z" fill="#ff4a4a"/>
</svg>
<div class="nm" style="left:1357px;top:1262.3px">02 郑倩</div>
<div class="val" style="right:26px;top:1262.3px">6单</div>
<div class="trk" style="left:1357px;top:1283.3px;width:538px"><div class="fill" style="width:358.7px;background:linear-gradient(90deg,#e99a4a,#ecc45a)"></div></div>
<svg class="a" style="left:1312.2px;top:1323.1px" width="36" height="38" viewBox="0 0 36 38">
<defs><clipPath id="c13302_13421"><circle cx="18" cy="19.3" r="17"/></clipPath></defs>
<circle cx="18" cy="19.3" r="17" fill="#f99a38"/>
<g clip-path="url(#c13302_13421)"><path d="M3,32.5 Q10,27.8 18.3,27.6 Q26.5,27.8 33,32.5 V40 H3 Z" fill="#63b0fb"/></g>
<path d="M13.8,26.5 H22.8 L18.3,31.6 Z" fill="#f6bb8a"/>
<path d="M13.3,27.4 L18.3,31.8 L14.6,33.6 Z M23.3,27.4 L18.3,31.8 L22,33.6 Z" fill="#fff"/>
<ellipse cx="9.2" cy="16.2" rx="1.5" ry="2.3" fill="#f8c49c"/><ellipse cx="28.3" cy="16.2" rx="1.5" ry="2.3" fill="#f8c49c"/>
<path d="M9.8,10 Q9.4,26.8 18.6,26.8 Q28,26.8 27.8,10 Q18.6,5 9.8,10 Z" fill="#fdd8bd"/>
<path d="M8.6,16.3 Q8.2,4.5 13,2.2 Q17.5,0.2 21.5,1.6 Q24.5,2.8 25.5,3.8 Q28.8,5 28.7,16.3 L28,16 Q27.2,11.5 24,9.2 Q23.2,10.3 21.5,10.2 Q16,10 13,11.2 Q11,12.8 10.3,16.3 Z" fill="#4a1b05"/>
<path d="M11.7,14.9 Q13.7,13.3 15.8,14.9 M21.6,14.9 Q23.7,13.3 25.8,14.9" stroke="#5a3828" stroke-width="1.3" fill="none"/>
<path d="M11.6,17.3 Q13.7,16.8 15.8,17.3 M21.7,17.3 Q23.8,16.8 25.9,17.3" stroke="#5e3e2e" stroke-width="1.1" fill="none"/>
<path d="M16.2,22.3 H20.5 Q18.4,23.9 16.2,22.3 Z" fill="#ff4a4a"/>
</svg>
<div class="nm" style="left:1357px;top:1326.6px">03 白宁宁</div>
<div class="val" style="right:26px;top:1326.6px">6单</div>
<div class="trk" style="left:1357px;top:1347.6px;width:538px"><div class="fill" style="width:358.7px;background:linear-gradient(90deg,#3fc278,#6ccda1)"></div></div>
<svg class="a" style="left:1312.2px;top:1387.4px" width="36" height="38" viewBox="0 0 36 38">
<defs><clipPath id="c13302_14064"><circle cx="18" cy="19.3" r="17"/></clipPath></defs>
<circle cx="18" cy="19.3" r="17" fill="#f99a38"/>
<g clip-path="url(#c13302_14064)"><path d="M3,32.5 Q10,27.8 18.3,27.6 Q26.5,27.8 33,32.5 V40 H3 Z" fill="#63b0fb"/></g>
<path d="M13.8,26.5 H22.8 L18.3,31.6 Z" fill="#f6bb8a"/>
<path d="M13.3,27.4 L18.3,31.8 L14.6,33.6 Z M23.3,27.4 L18.3,31.8 L22,33.6 Z" fill="#fff"/>
<ellipse cx="9.2" cy="16.2" rx="1.5" ry="2.3" fill="#f8c49c"/><ellipse cx="28.3" cy="16.2" rx="1.5" ry="2.3" fill="#f8c49c"/>
<path d="M9.8,10 Q9.4,26.8 18.6,26.8 Q28,26.8 27.8,10 Q18.6,5 9.8,10 Z" fill="#fdd8bd"/>
<path d="M8.6,16.3 Q8.2,4.5 13,2.2 Q17.5,0.2 21.5,1.6 Q24.5,2.8 25.5,3.8 Q28.8,5 28.7,16.3 L28,16 Q27.2,11.5 24,9.2 Q23.2,10.3 21.5,10.2 Q16,10 13,11.2 Q11,12.8 10.3,16.3 Z" fill="#4a1b05"/>
<path d="M11.7,14.9 Q13.7,13.3 15.8,14.9 M21.6,14.9 Q23.7,13.3 25.8,14.9" stroke="#5a3828" stroke-width="1.3" fill="none"/>
<path d="M11.6,17.3 Q13.7,16.8 15.8,17.3 M21.7,17.3 Q23.8,16.8 25.9,17.3" stroke="#5e3e2e" stroke-width="1.1" fill="none"/>
<path d="M16.2,22.3 H20.5 Q18.4,23.9 16.2,22.3 Z" fill="#ff4a4a"/>
</svg>
<div class="nm" style="left:1357px;top:1390.9px">04 张小北</div>
<div class="val" style="right:26px;top:1390.9px">4单</div>
<div class="trk" style="left:1357px;top:1411.9px;width:538px"><div class="fill" style="width:239.1px;background:linear-gradient(90deg,#22e0a8,#0aaee8)"></div></div>
<svg class="a" style="left:1312.2px;top:1451.7px" width="36" height="38" viewBox="0 0 36 38">
<defs><clipPath id="c13302_14707"><circle cx="18" cy="19.3" r="17"/></clipPath></defs>
<circle cx="18" cy="19.3" r="17" fill="#f99a38"/>
<g clip-path="url(#c13302_14707)"><path d="M3,32.5 Q10,27.8 18.3,27.6 Q26.5,27.8 33,32.5 V40 H3 Z" fill="#63b0fb"/></g>
<path d="M13.8,26.5 H22.8 L18.3,31.6 Z" fill="#f6bb8a"/>
<path d="M13.3,27.4 L18.3,31.8 L14.6,33.6 Z M23.3,27.4 L18.3,31.8 L22,33.6 Z" fill="#fff"/>
<ellipse cx="9.2" cy="16.2" rx="1.5" ry="2.3" fill="#f8c49c"/><ellipse cx="28.3" cy="16.2" rx="1.5" ry="2.3" fill="#f8c49c"/>
<path d="M9.8,10 Q9.4,26.8 18.6,26.8 Q28,26.8 27.8,10 Q18.6,5 9.8,10 Z" fill="#fdd8bd"/>
<path d="M8.6,16.3 Q8.2,4.5 13,2.2 Q17.5,0.2 21.5,1.6 Q24.5,2.8 25.5,3.8 Q28.8,5 28.7,16.3 L28,16 Q27.2,11.5 24,9.2 Q23.2,10.3 21.5,10.2 Q16,10 13,11.2 Q11,12.8 10.3,16.3 Z" fill="#4a1b05"/>
<path d="M11.7,14.9 Q13.7,13.3 15.8,14.9 M21.6,14.9 Q23.7,13.3 25.8,14.9" stroke="#5a3828" stroke-width="1.3" fill="none"/>
<path d="M11.6,17.3 Q13.7,16.8 15.8,17.3 M21.7,17.3 Q23.8,16.8 25.9,17.3" stroke="#5e3e2e" stroke-width="1.1" fill="none"/>
<path d="M16.2,22.3 H20.5 Q18.4,23.9 16.2,22.3 Z" fill="#ff4a4a"/>
</svg>
<div class="nm" style="left:1357px;top:1455.2px">05 常娟</div>
<div class="val" style="right:26px;top:1455.2px">1单</div>
<div class="trk" style="left:1357px;top:1476.2px;width:538px"><div class="fill" style="width:59.8px;background:linear-gradient(90deg,#22e0a8,#0aaee8)"></div></div>
</body></html>
